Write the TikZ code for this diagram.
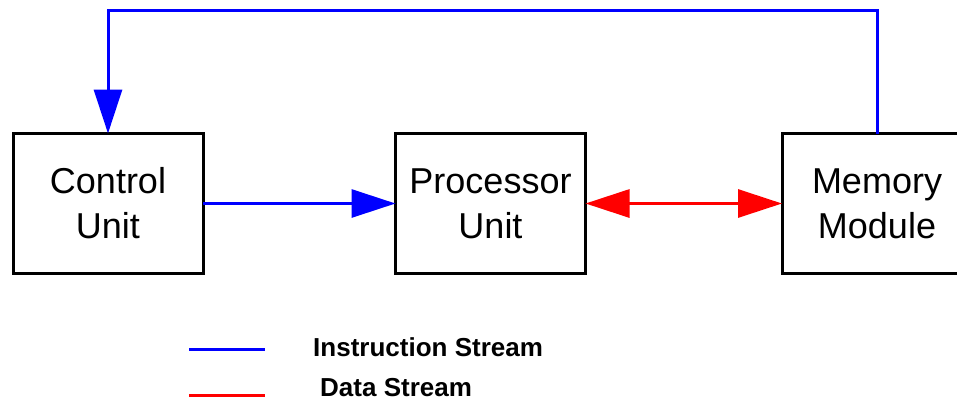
\documentclass[tikz,border=0pt]{standalone}
\usepackage{fontspec}
\setmainfont{Liberation Sans}
\usetikzlibrary{arrows.meta}
\tikzset{
  unitbox/.style={draw=black, line width=3pt, minimum width=190pt, minimum height=140pt, inner sep=0pt, outer sep=0pt, align=center, font=\fontsize{36}{45}\selectfont},
  instr/.style={draw={rgb,255:red,0;green,0;blue,255}, line width=3pt},
  datas/.style={draw={rgb,255:red,255;green,0;blue,0}, line width=3pt},
  bluetip/.style={-{Triangle[length=44pt,width=28pt]}},
  redtips/.style={{Triangle[length=44pt,width=28pt]}-{Triangle[length=44pt,width=28pt]}},
  legtext/.style={anchor=base west, inner sep=0pt, font=\bfseries\fontsize{26}{30}\selectfont}
}
\begin{document}
\begin{tikzpicture}[x=1pt,y=-1pt]
\useasboundingbox (0,0) rectangle (957,402);
\clip (0,0) rectangle (957,402);
\fill[white] (0,0) rectangle (957,402);
\node[unitbox] (ctrl) at (108,203.5) {Control\\Unit};
\node[unitbox] (proc) at (490.5,203.5) {Processor\\Unit};
\node[unitbox] (mem) at (877,203.5) {Memory\\Module};
\coordinate (top) at (500,10);
\draw[instr, bluetip] (mem.north) |- (top) -| (ctrl.north);
\draw[instr, bluetip] (ctrl.east) -- (proc.west);
\draw[datas, redtips] (proc.east) -- (mem.west);
\coordinate (l1a) at (189,349);
\coordinate (l1b) at (265,349);
\coordinate (l2a) at (189,395);
\coordinate (l2b) at (265,395);
\draw[instr] (l1a) -- (l1b);
\draw[datas] (l2a) -- (l2b);
\node[legtext] (lt1) at (313,356) {Instruction Stream};
\node[legtext] (lt2) at (320,396) {Data Stream};
\end{tikzpicture}
\end{document}
